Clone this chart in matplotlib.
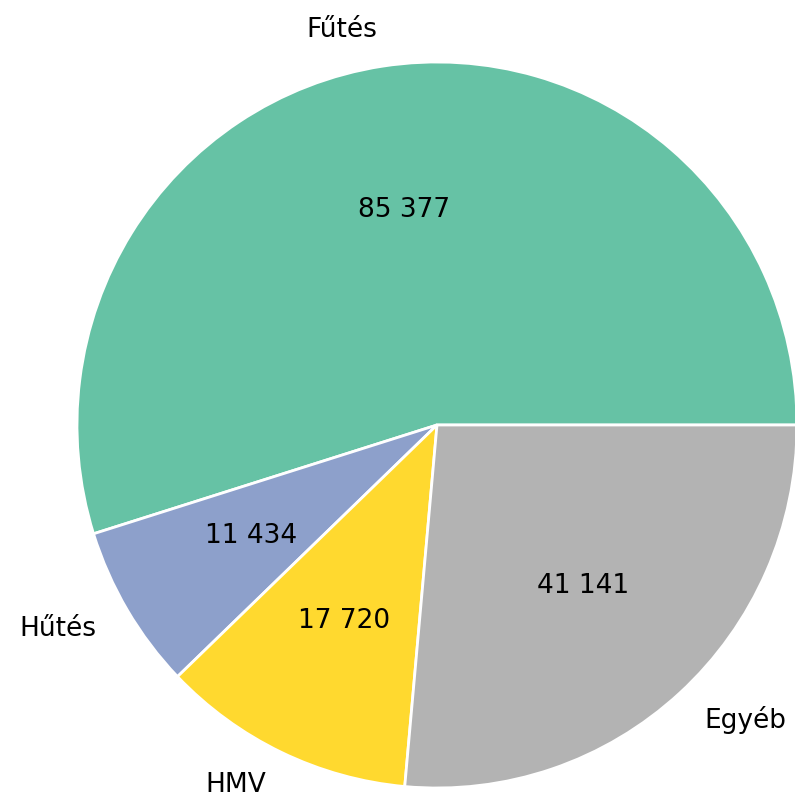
import matplotlib
matplotlib.use("Agg")
import matplotlib.pyplot as plt

# Data
labels = ["Fűtés", "Hűtés", "HMV", "Egyéb"]
values = [85377, 11434, 17720, 41141]
colors = ["#66c2a5", "#8da0cb", "#ffd92f", "#b3b3b3"]

total = sum(values)


def fmt(pct):
    v = int(round(pct * total / 100.0))
    return f"{v:,}".replace(",", " ")


fig = plt.figure(figsize=(7.95, 7.98), dpi=100)
ax = fig.add_axes([77 / 795, (798 - 425 - 363) / 798, 720 / 795, 726 / 798])

ax.pie(values, labels=labels, colors=colors, autopct=fmt, startangle=0,
       wedgeprops={"edgecolor": "white", "linewidth": 2},
       textprops={"fontsize": 19})
ax.set_aspect("auto")
ax.set_xlim(-1, 1)
ax.set_ylim(-1, 1)

fig.savefig("out.png", dpi=100)
